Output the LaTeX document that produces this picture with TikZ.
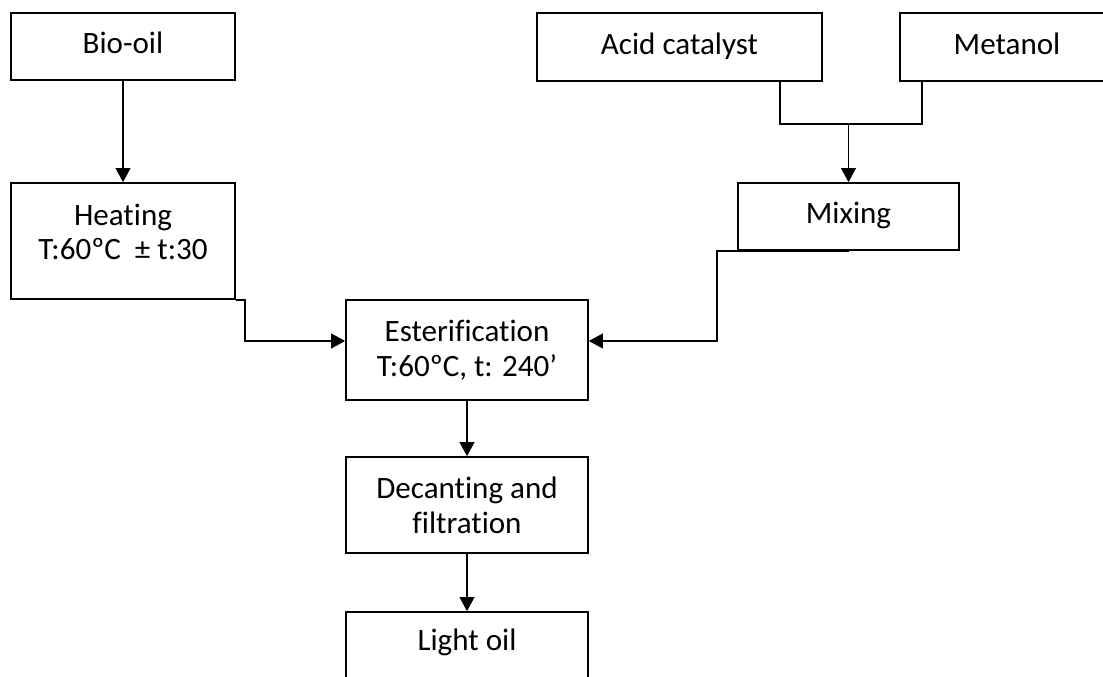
\documentclass[tikz,border=0pt]{standalone}
\usepackage{fontspec}
\setmainfont[Ligatures=NoCommon]{Carlito}
\usetikzlibrary{arrows.meta,positioning}

\begin{document}
\begin{tikzpicture}[x=0.75pt,y=-0.75pt,
    box/.style={draw, line width=1.2pt, minimum width=#1, inner sep=0pt},
    flow/.style={-{Triangle[length=10.5pt,width=11pt]}, line width=1.2pt},
    txt/.style={font=\fontsize{23.3}{26}\selectfont, align=center},
    oneline/.style={txt, text height=16pt, text depth=5pt}]
            \clip (0,0) rectangle (1103,677);
            % Input boxes
            \node[box=168pt, minimum height=50.25pt, oneline] (bio) at (123,46.5) {Bio-oil};
            \node[box=213.75pt, minimum height=51pt, oneline] (acid) at (679.5,47) {Acid catalyst};
            \node[box=160.5pt, minimum height=51pt, oneline] (metanol) at (1007,47) {Metanol};

            % Process boxes
            \node[box=168pt, minimum height=87pt] (heating) at (123,241) {};
            \node[txt] (heattxt) at (123,232) {Heating\\T:60ºC \ ± t:30};
            \node[box=165.75pt, minimum height=50.25pt, oneline] (mixing) at (848.5,216.5) {Mixing};
            \node[box=181.5pt, minimum height=75pt, txt] (ester) at (467,350) {Esterification\\T:60ºC, t: 240’};
            \node[box=181.5pt, minimum height=72pt, txt] (decant) at (467,505) {Decanting and\\filtration};
            \node[box=181.5pt, minimum height=72pt] (light) at (467,660) {};
            \node[oneline] (lighttxt) at (467,643) {Light oil};

            % Turning points
            \coordinate (merge1) at (780,124);
            \coordinate (merge2) at (922,124);
            \coordinate (mixin) at (848.5,124);
            \coordinate (hturn) at (245,341);
            \coordinate (mturn) at (717,341);

            % Connectors
            \draw[flow] (bio) -- (heating);
            \draw[line width=1.2pt] (acid.south -| merge1) -- (merge1) -- (merge2) -- (metanol.south -| merge2);
            \draw[flow] (mixin) -- (mixing);
            \draw[flow] (heating.south east) -| (hturn) -- (hturn -| ester.west);
            \draw[flow] (mixing.south) -| (mturn) -- (mturn -| ester.east);
            \draw[flow] (ester) -- (decant);
            \draw[flow] (decant) -- (light);
\end{tikzpicture}
\end{document}
